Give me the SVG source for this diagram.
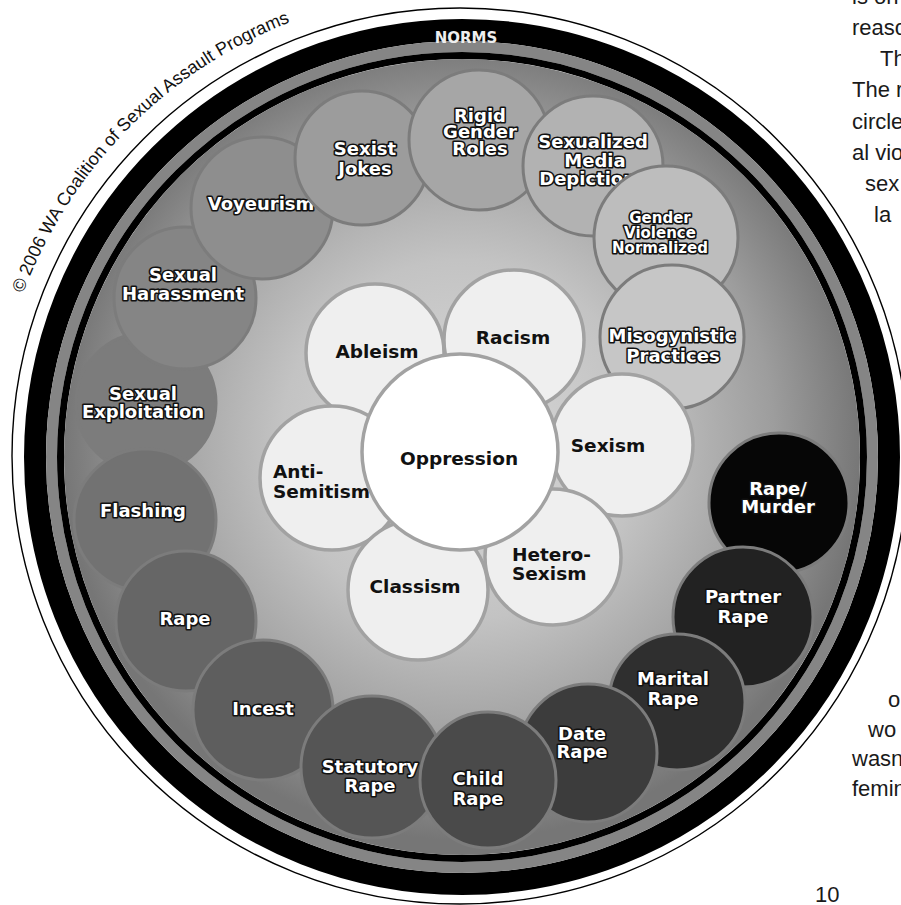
<svg xmlns="http://www.w3.org/2000/svg" width="901" height="905" viewBox="0 0 901 905">
<defs>
<radialGradient id="bg" cx="462" cy="440" r="400" gradientUnits="userSpaceOnUse">
<stop offset="0" stop-color="#d9d9d9"/>
<stop offset="0.45" stop-color="#c3c3c3"/>
<stop offset="0.78" stop-color="#9d9d9d"/>
<stop offset="1" stop-color="#767676"/>
</radialGradient>
<path id="arc" d="M 23.2 293.6 A 466 466 0 0 1 379.1 -2.9"/>
</defs>
<style>
.rc{stroke:#7c7c7c;stroke-width:3}
.pt{fill:#efefef;stroke:#a2a2a2;stroke-width:3.5}
.wl{font-family:"DejaVu Sans",sans-serif;font-weight:bold;font-size:18px;fill:#fff;stroke:#111;stroke-width:3.2;paint-order:stroke;stroke-linejoin:round;text-anchor:middle}
.sm{font-size:15px}
.bl{font-family:"DejaVu Sans",sans-serif;font-weight:bold;font-size:18.5px;fill:#111;text-anchor:middle}
.st{text-anchor:start}
.pg{font-family:"Liberation Sans",sans-serif;font-size:22px;fill:#1a1a1a}
</style>
<rect width="901" height="905" fill="#fff"/>
<g id="frame">
<circle cx="460" cy="456" r="448" fill="#fff" stroke="#000" stroke-width="1.4"/>
<circle cx="462" cy="457" r="427" fill="none" stroke="#000" stroke-width="22"/>
<circle cx="462" cy="457" r="410.5" fill="none" stroke="#858585" stroke-width="11"/>
<circle cx="462" cy="457" r="401.5" fill="none" stroke="#000" stroke-width="7"/>
<circle cx="462" cy="457" r="398" fill="url(#bg)"/>
<text x="466" y="43" font-family="DejaVu Sans, sans-serif" font-weight="bold" font-size="15" fill="#eee" text-anchor="middle">NORMS</text>
</g>
<text font-family="Liberation Sans, sans-serif" font-size="18" fill="#111"><textPath href="#arc">© 2006 WA Coalition of Sexual Assault Programs</textPath></text>

<g id="sexual-exploitation"><circle class="rc" cx="146" cy="403" r="70" fill="#7c7c7c"/><text class="wl" x="143" y="400">Sexual</text><text class="wl" x="143" y="418">Exploitation</text></g>
<g id="sexual-harassment"><circle class="rc" cx="185" cy="298" r="71" fill="#858585"/><text class="wl" x="183" y="281">Sexual</text><text class="wl" x="183" y="300">Harassment</text></g>
<g id="voyeurism"><circle class="rc" cx="262" cy="208" r="71" fill="#8e8e8e"/><text class="wl" x="261" y="210">Voyeurism</text></g>
<g id="sexist-jokes"><circle class="rc" cx="362" cy="158" r="67" fill="#9c9c9c"/><text class="wl" x="365" y="155">Sexist</text><text class="wl" x="365" y="175">Jokes</text></g>
<g id="rigid-gender-roles"><circle class="rc" cx="479" cy="140" r="70" fill="#a6a6a6"/><text class="wl" x="480" y="122">Rigid</text><text class="wl" x="480" y="138">Gender</text><text class="wl" x="480" y="155">Roles</text></g>
<g id="sexualized-media"><circle class="rc" cx="593" cy="166" r="70" fill="#b2b2b2"/><text class="wl" x="593" y="148">Sexualized</text><text class="wl" x="595" y="167">Media</text><text class="wl" x="593" y="185">Depictions</text></g>
<g id="gender-violence-normalized"><circle class="rc" cx="666" cy="238" r="72" fill="#bdbdbd"/><text class="wl sm" x="660" y="223">Gender</text><text class="wl sm" x="660" y="238">Violence</text><text class="wl sm" x="660" y="253">Normalized</text></g>
<g id="misogynistic-practices"><circle class="rc" cx="672" cy="337" r="72" fill="#c6c6c6"/><text class="wl" x="672" y="342">Misogynistic</text><text class="wl" x="673" y="362">Practices</text></g>
<g id="flashing"><circle class="rc" cx="145" cy="520" r="71" fill="#727272"/><text class="wl" x="143" y="517">Flashing</text></g>
<g id="rape"><circle class="rc" cx="186" cy="621" r="70" fill="#666666"/><text class="wl" x="185" y="625">Rape</text></g>
<g id="incest"><circle class="rc" cx="263" cy="710" r="70" fill="#5e5e5e"/><text class="wl" x="263" y="715">Incest</text></g>
<g id="statutory-rape"><circle class="rc" cx="372" cy="767" r="71" fill="#555555"/><text class="wl" x="370" y="773">Statutory</text><text class="wl" x="370" y="792">Rape</text></g>
<g id="rape-murder"><circle class="rc" cx="779" cy="503" r="70" fill="#060606"/><text class="wl" x="778" y="495">Rape/</text><text class="wl" x="778" y="513">Murder</text></g>
<g id="partner-rape"><circle class="rc" cx="743" cy="617" r="70" fill="#222222"/><text class="wl" x="743" y="603">Partner</text><text class="wl" x="743" y="623">Rape</text></g>
<g id="marital-rape"><circle class="rc" cx="677" cy="702" r="68" fill="#2f2f2f"/><text class="wl" x="673" y="685">Marital</text><text class="wl" x="673" y="705">Rape</text></g>
<g id="date-rape"><circle class="rc" cx="588" cy="753" r="69" fill="#3c3c3c"/><text class="wl" x="582" y="740">Date</text><text class="wl" x="582" y="758">Rape</text></g>
<g id="child-rape"><circle class="rc" cx="488" cy="780" r="68" fill="#4a4a4a"/><text class="wl" x="478" y="785">Child</text><text class="wl" x="478" y="805">Rape</text></g>

<g id="ableism"><circle class="pt" cx="375" cy="353" r="69"/><text class="bl" x="377" y="358">Ableism</text></g>
<g id="anti-semitism"><circle class="pt" cx="332" cy="478" r="72"/><text class="bl st" x="273" y="478">Anti-</text><text class="bl st" x="273" y="498">Semitism</text></g>
<g id="racism"><circle class="pt" cx="514" cy="340" r="70"/><text class="bl" x="513" y="344">Racism</text></g>
<g id="sexism"><circle class="pt" cx="622" cy="445" r="71"/><text class="bl" x="608" y="452">Sexism</text></g>
<g id="classism"><circle class="pt" cx="418" cy="590" r="70"/><text class="bl" x="415" y="593">Classism</text></g>
<g id="hetero-sexism"><circle class="pt" cx="553" cy="557" r="68"/><text class="bl st" x="512" y="561">Hetero-</text><text class="bl st" x="512" y="580">Sexism</text></g>
<g id="oppression"><circle cx="460" cy="452" r="98" fill="#fff" stroke="#a2a2a2" stroke-width="3.5"/><text class="bl" x="459" y="465" font-size="22">Oppression</text></g>

<g id="page-text">
<text class="pg" x="852" y="4">is on</text>
<text class="pg" x="852" y="35">reaso</text>
<text class="pg" x="880" y="66">Th</text>
<text class="pg" x="852" y="97">The r</text>
<text class="pg" x="852" y="129">circle</text>
<text class="pg" x="852" y="160">al vio</text>
<text class="pg" x="865" y="191">sex</text>
<text class="pg" x="874" y="222">la</text>
<text class="pg" x="888" y="707">o</text>
<text class="pg" x="868" y="737">wo</text>
<text class="pg" x="852" y="766">wasn</text>
<text class="pg" x="852" y="796">femin</text>
<text class="pg" x="815" y="902">10</text>
</g>
</svg>
